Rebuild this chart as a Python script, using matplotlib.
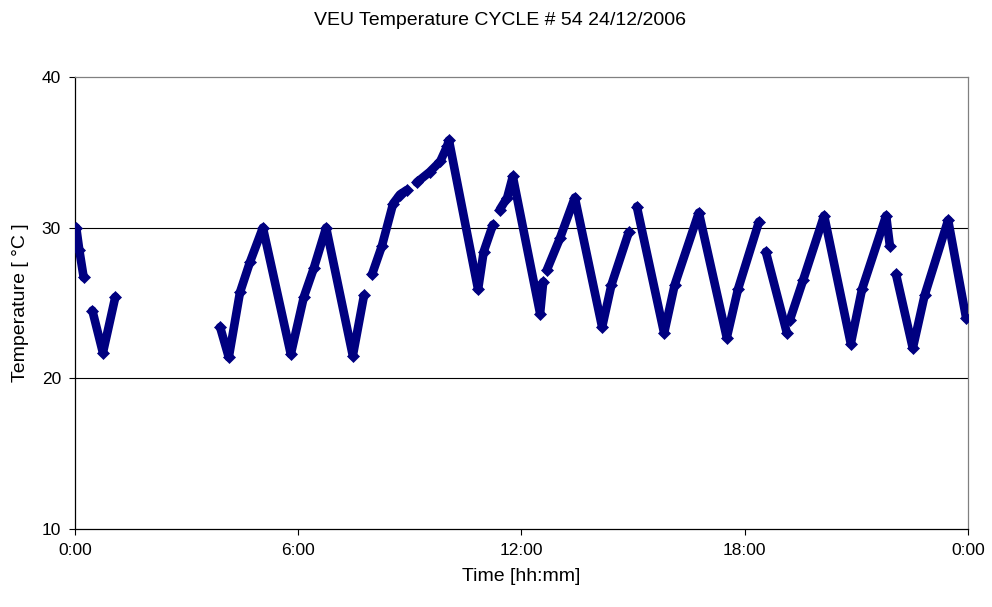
import matplotlib
matplotlib.use("Agg")
from matplotlib import pyplot as plt

plt.rcParams['font.family'] = ['Liberation Sans', 'DejaVu Sans']

# logged temperature, split where the logger dropped readings
# times are "h:mm" from midnight, temperatures in degC
seg_times = [
    ["0:02", "0:07", "0:14"],
    ["0:28", "0:45", "1:05"],
    ["3:54", "4:08", "4:26", "4:42", "5:03", "5:48", "6:09", "6:25", "6:45",
     "7:28", "7:46"],
    ["7:59", "8:15", "8:33", "8:44", "8:55"],
    ["9:11", "9:32", "9:49", "10:00", "10:03", "10:50", "10:59", "11:14"],
    ["11:25", "11:37", "11:46", "12:30", "12:35"],
    ["12:41", "13:02", "13:26", "14:10", "14:25", "14:53"],
    ["15:06", "15:50", "16:07", "16:46", "17:31", "17:49", "18:23"],
    ["18:34", "19:08"],
    ["19:13", "19:34", "20:08", "20:51", "21:09", "21:48", "21:54"],
    ["22:04", "22:31", "22:50", "23:28", "23:57"],
]
seg_temps = [
    [30.0, 28.5, 26.7],
    [24.5, 21.7, 25.4],
    [23.4, 21.4, 25.7, 27.7, 30.0, 21.6, 25.4, 27.3, 30.0, 21.5, 25.5],
    [26.9, 28.8, 31.6, 32.2, 32.5],
    [33.0, 33.7, 34.4, 35.4, 35.8, 25.9, 28.4, 30.2],
    [31.2, 32.0, 33.4, 24.3, 26.4],
    [27.2, 29.3, 32.0, 23.4, 26.2, 29.7],
    [31.4, 23.0, 26.2, 31.0, 22.7, 25.9, 30.4],
    [28.4, 23.0],
    [23.9, 26.5, 30.8, 22.3, 25.9, 30.8, 28.8],
    [26.9, 22.0, 25.5, 30.5, 24.0],
]

x_ticks = [0, 6, 12, 18, 24]
x_tick_labels = ["0:00", "6:00", "12:00", "18:00", "0:00"]
y_ticks = [10, 20, 30, 40]


def to_hours(s):
    h, m = s.split(":")
    return int(h) + int(m) / 60.0


fig = plt.figure(figsize=(9.92, 6.07), dpi=100)
ax = fig.add_axes([0.0756, 0.1285, 0.9002, 0.7446])

navy = "#000080"
for times, temps in zip(seg_times, seg_temps):
    hours = [to_hours(t) for t in times]
    ax.plot(hours, temps, color=navy, linewidth=6.2,
            solid_joinstyle="round", solid_capstyle="round",
            marker="D", markersize=6.5, markerfacecolor=navy,
            markeredgecolor=navy, markeredgewidth=0.5, zorder=3)

ax.set_xlim(0, 24)
ax.set_ylim(10, 40)
ax.set_xticks(x_ticks)
ax.set_xticklabels(x_tick_labels)
ax.set_yticks(y_ticks)

for y in [20, 30]:
    ax.axhline(y, color="black", linewidth=0.8, zorder=1)

ax.spines['left'].set_color("black")
ax.spines['bottom'].set_color("black")
ax.spines['top'].set_color("#808080")
ax.spines['right'].set_color("#808080")
for s in ax.spines.values():
    s.set_linewidth(0.9)

ax.tick_params(axis="both", direction="out", length=4, width=0.8,
               labelsize=12.5, pad=6, colors="black")

ax.set_xlabel("Time [hh:mm]", fontsize=14, labelpad=7)
ax.set_ylabel("Temperature [ °C ]", fontsize=14, labelpad=9)
fig.suptitle("VEU Temperature CYCLE # 54 24/12/2006", fontsize=14,
             x=0.504, y=0.98)

fig.savefig("out.png", dpi=100)
